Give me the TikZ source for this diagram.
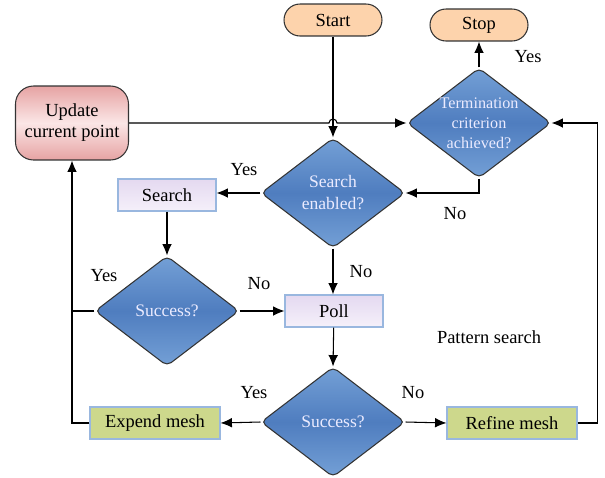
\documentclass[tikz,border=0pt]{standalone}
\usepackage{fontspec}
\setmainfont{Liberation Serif}
\usepackage{tikz}
\usepackage{xcolor}
\usetikzlibrary{shapes.geometric,arrows.meta}

\definecolor{peach}{HTML}{FDD3AC}
\definecolor{dblue}{HTML}{4F7DBF}
\definecolor{lblue}{HTML}{74A0D6}
\definecolor{boxedge}{HTML}{99B7DF}
\definecolor{lav}{HTML}{E4D9F0}
\definecolor{lavlight}{HTML}{F5F0FA}
\definecolor{olive}{HTML}{CDD88C}
\definecolor{rosedark}{HTML}{E6A3A3}
\definecolor{roselight}{HTML}{FBE6E6}

\begin{document}
\begin{tikzpicture}[x=0.02cm, y=-0.02cm, line width=0.6pt, font=\fontsize{10.5}{12}\selectfont,
    >={Latex[length=6.5pt,width=5.5pt]},
    terminal/.style={draw=black!80, fill=peach, rounded corners=0.32cm, minimum width=1.96cm, minimum height=0.64cm},
    decision/.style={diamond, draw=black!80, rounded corners=3pt, inner sep=0pt, minimum width=2.88cm, minimum height=2.2cm,
                     top color=lblue, bottom color=lblue, middle color=dblue},
    dtext/.style={text=white!92!blue, font=\fontsize{10}{12.5}\selectfont, align=center},
    search/.style={draw=boxedge, top color=lav, bottom color=lavlight, minimum width=1.96cm, minimum height=0.64cm},
    mesh/.style={draw=boxedge, fill=olive, minimum width=2.6cm, minimum height=0.64cm},
    update/.style={draw=black!80, rounded corners=0.36cm, minimum width=2.26cm, minimum height=1.48cm, align=center,
                   top color=rosedark, bottom color=rosedark, middle color=roselight},
    lbl/.style={text=black}]
    \useasboundingbox (0,0) rectangle (605,477);

    \node[terminal] (start) at (333,20) {Start};
    \node[terminal] (stop) at (479,25) {Stop};
    \node[update] (upd) at (72,123) {Update\\current point};
    \node[decision, label={[dtext, font=\fontsize{9.2}{11.5}\selectfont]center:Termination\\criterion\\achieved?}] (term) at (479,123) {};
    \node[decision, label={[dtext]center:Search\\enabled?}] (senab) at (333,193) {};
    \node[search] (srch) at (167,195) {Search};
    \node[decision, label={[dtext]center:Success?}] (succa) at (167,311) {};
    \node[search] (poll) at (334,311) {Poll};
    \node[decision, label={[dtext]center:Success?}] (succb) at (333,422) {};
    \node[mesh] (expend) at (155,423) {Expend mesh};
    \node[mesh] (refine) at (512,423) {Refine mesh};

    \node[lbl] (y1) at (528,57) {Yes};
    \node[lbl] (n1) at (455,214) {No};
    \node[lbl] (y2) at (244,170) {Yes};
    \node[lbl] (n2) at (361,272) {No};
    \node[lbl] (y3) at (104,276) {Yes};
    \node[lbl] (n3) at (259,284) {No};
    \node[lbl] (y4) at (254,393) {Yes};
    \node[lbl] (n4) at (413,393) {No};
    \node[lbl] (ps) at (489,337) {Pattern search};

    \draw[->] (start) -- (senab.north);
    \draw[->] (upd.east) -- (329,123) arc[start angle=180, end angle=0, radius=0.08cm] -- (term.west);
    \draw[->] (term.north) -- (stop);
    \draw[->] (term.south) |- (senab.east);
    \draw[->] (senab.west) -- (srch.east |- senab.west);
    \draw[->] (srch) -- (succa.north);
    \draw[->] (senab.south) -- (poll.north -| senab.south);
    \draw[->] (succa.east) -- (poll.west);
    \draw (succa.west) -- (72,311);
    \draw[->] (poll) -- (succb.north);
    \draw[->] (succb.west) -- (expend.east);
    \draw[->] (succb.east) -- (refine.west);
    \draw[->] (expend.west) -- (72,423) -- (upd.south);
    \draw[->] (refine.east) -- ++(20,0) |- (term.east);
\end{tikzpicture}
\end{document}
